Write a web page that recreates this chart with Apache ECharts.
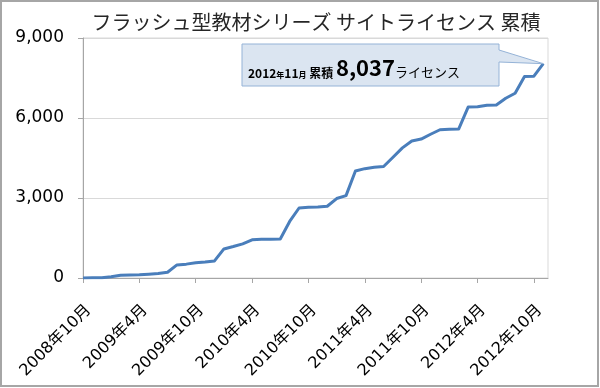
<!DOCTYPE html>
<html>
<head>
<meta charset="utf-8">
<script src="https://cdn.jsdelivr.net/npm/echarts@6/dist/echarts.min.js"></script>
<style>
html,body{margin:0;padding:0;background:#fff;}
#chart{width:600px;height:388px;}
</style>
</head>
<body>
<div id="chart"></div>
<script>
const chartTitle = 'フラッシュ型教材シリーズ サイトライセンス 累積';
const months = [
  '2008年10月','2008年11月','2008年12月',
  '2009年1月','2009年2月','2009年3月','2009年4月','2009年5月','2009年6月','2009年7月','2009年8月','2009年9月','2009年10月','2009年11月','2009年12月',
  '2010年1月','2010年2月','2010年3月','2010年4月','2010年5月','2010年6月','2010年7月','2010年8月','2010年9月','2010年10月','2010年11月','2010年12月',
  '2011年1月','2011年2月','2011年3月','2011年4月','2011年5月','2011年6月','2011年7月','2011年8月','2011年9月','2011年10月','2011年11月','2011年12月',
  '2012年1月','2012年2月','2012年3月','2012年4月','2012年5月','2012年6月','2012年7月','2012年8月','2012年9月','2012年10月','2012年11月'
];
const licenses = [
  0, 5, 10,
  45, 100, 115, 120, 140, 165, 215, 490, 520, 570, 600, 640,
  1090, 1180, 1280, 1430, 1455, 1455, 1460, 2120, 2625, 2650, 2665, 2690,
  2980, 3090, 4010, 4100, 4150, 4180, 4530, 4880, 5140, 5210, 5390, 5560,
  5580, 5590, 6410, 6420, 6480, 6490, 6740, 6930, 7560, 7570, 8037
];
const yTicks = [0, 3000, 6000, 9000];
const calloutUnit = 'ライセンス';
const calloutWord = '累積';

const chart = echarts.init(document.getElementById('chart'), null, {renderer: 'canvas'});
const latin = "'DejaVu Sans','Noto Sans CJK JP',sans-serif";
const cjk = "'Noto Sans CJK JP',sans-serif";

const option = {
  animation: false,
  backgroundColor: '#fff',
  title: {
    text: chartTitle,
    left: 316,
    textAlign: 'center',
    top: 12,
    padding: 0,
    textStyle: {fontFamily: cjk, fontSize: 20, fontWeight: 'normal', color: '#262626'}
  },
  grid: {
    left: 83, right: 52, top: 38, bottom: 110,
    show: true, borderColor: '#d9d9d9', borderWidth: 1
  },
  xAxis: {
    type: 'value',
    min: 0,
    max: months.length - 0.5,
    interval: 6,
    splitLine: {show: false},
    axisLine: {show: true, lineStyle: {color: '#a6a6a6', width: 1}},
    axisTick: {show: true, length: 5, lineStyle: {color: '#a6a6a6'}},
    axisLabel: {
      rotate: 45,
      showMaxLabel: false,
      margin: 24,
      verticalAlign: 'top',
      fontFamily: latin,
      fontSize: 16,
      color: '#000',
      formatter: function (v) { return months[Math.round(v)] || ''; }
    }
  },
  yAxis: {
    type: 'value',
    min: yTicks[0],
    max: yTicks[yTicks.length - 1],
    interval: yTicks[1] - yTicks[0],
    axisLine: {show: true, lineStyle: {color: '#a6a6a6', width: 1}},
    axisTick: {show: true, length: 5, lineStyle: {color: '#a6a6a6'}},
    splitLine: {show: true, lineStyle: {color: '#d9d9d9', width: 1}},
    axisLabel: {
      margin: 19,
      fontFamily: latin,
      fontSize: 17,
      color: '#000',
      formatter: function (v) { return v.toLocaleString('en-US'); }
    }
  },
  series: [{
    type: 'line',
    data: licenses.map(function (v, i) { return [i, v]; }),
    showSymbol: false,
    symbol: 'none',
    lineStyle: {color: '#4a7ebb', width: 3, join: 'round'},
    z: 5
  }]
};
chart.setOption(option);

// callout pointing at the last data point
const lastIdx = licenses.length - 1;
const tip = chart.convertToPixel({xAxisIndex: 0, yAxisIndex: 0}, [lastIdx, licenses[lastIdx]]);
const lastLabel = months[lastIdx];
const m = lastLabel.match(/^(\d+)年(\d+)月$/);
const richText = '{d|' + m[1] + '}{s|年}{d|' + m[2] + '}{s|月}{w| ' + calloutWord + ' }{n|' +
  licenses[lastIdx].toLocaleString('en-US') + '}{u|' + calloutUnit + '}';

chart.setOption({
  graphic: [
    {
      type: 'rect',
      shape: {x: 1, y: 1, width: 597, height: 385},
      style: {fill: 'none', stroke: '#a6a6a6', lineWidth: 2},
      silent: true, z: 100
    },
    {
      type: 'polygon',
      shape: {points: [[242, 44], [499, 44], [499, 50], [tip[0], tip[1]], [499, 62], [499, 86], [242, 86]]},
      style: {fill: '#dbe5f1', stroke: '#95b3d7', lineWidth: 1},
      z: 50
    },
    {
      type: 'text',
      x: 248,
      y: 68,
      z: 51,
      style: {
        text: richText,
        verticalAlign: 'middle',
        align: 'left',
        fill: '#000',
        rich: {
          d: {fontFamily: cjk, fontSize: 12, fontWeight: 'bold', verticalAlign: 'bottom', fill: '#000'},
          s: {fontFamily: cjk, fontSize: 8, fontWeight: 'bold', verticalAlign: 'bottom', fill: '#000'},
          w: {fontFamily: cjk, fontSize: 12, fontWeight: 'bold', verticalAlign: 'bottom', fill: '#000'},
          n: {fontFamily: cjk, fontSize: 22, fontWeight: 'bold', verticalAlign: 'bottom', fill: '#000'},
          u: {fontFamily: cjk, fontSize: 13, fontWeight: 'normal', verticalAlign: 'bottom', fill: '#000'}
        }
      }
    }
  ]
});
</script>
</body>
</html>
